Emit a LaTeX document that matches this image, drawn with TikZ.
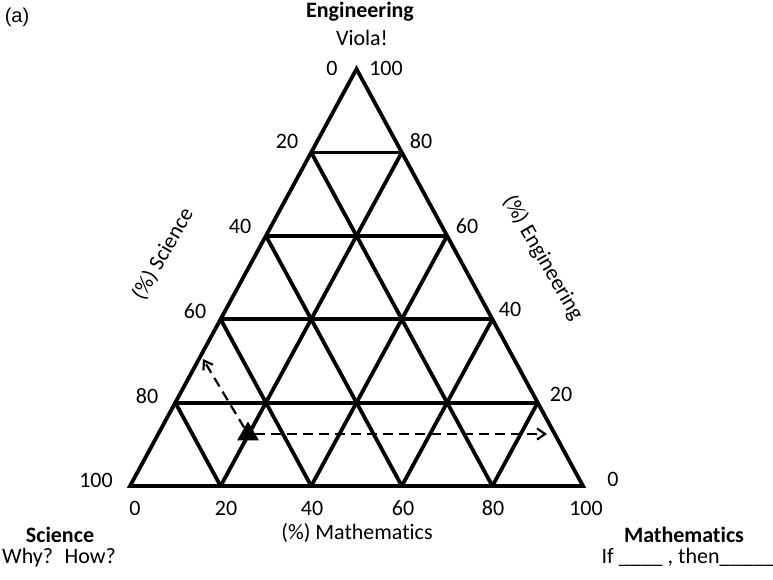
\documentclass[tikz,border=0pt]{standalone}
\usepackage{fontspec}
\setmainfont{Carlito}[Ligatures={NoCommon}]
\newfontfamily\panelfont{Liberation Sans}
\usetikzlibrary{arrows.meta}
\usetikzlibrary{calc, math}
\usetikzlibrary{shapes.geometric}

\tikzset{
  tern/.style={line width=3.8pt, line join=miter},
  lbl/.style={font=\fontsize{22}{26}\selectfont, inner sep=0pt},
  ttl/.style={font=\fontsize{22}{26}\selectfont\bfseries, inner sep=0pt, anchor=base},
  marker/.style={regular polygon, regular polygon sides=3, fill, minimum size=25pt, inner sep=0pt},
  path arrow/.style={line width=2.2pt, dash pattern=on 10pt off 6pt, -{Straight Barb[length=8pt,width=11pt]}},
}

\begin{document}
\begin{tikzpicture}[x=1pt,y=-1pt]
\tikzmath{
\xl=130;
\xr=583;
\yb=486;
\yt=69;
}
\useasboundingbox (0,0) rectangle (773,579);

\coordinate (sci) at (\xl,\yb);
\coordinate (math) at (\xr,\yb);
\coordinate (top) at ({(\xl+\xr)/2},\yt);
\foreach \k in {0,...,5}{
  \coordinate (l\k) at ($(sci)!\k/5!(top)$);
  \coordinate (r\k) at ($(math)!\k/5!(top)$);
  \coordinate (b\k) at ($(sci)!\k/5!(math)$);
}

\draw[tern] (sci) -- (math) -- (top) -- cycle;
\foreach \k in {1,...,4}{
  \pgfmathtruncatemacro\j{5-\k}
  \draw[tern] (l\k) -- (r\k);
  \draw[tern] (b\k) -- (l\k);
  \draw[tern] (b\k) -- (r\j);
}

\foreach \v/\x/\y in {0/332/68, 20/287/141, 40/240/226, 60/195/311, 80/147/396, 100/96/480}
  \node[lbl] (sl\v) at (\x,\y) {\v};
\foreach \v/\x/\y in {100/386/68, 80/421/141, 60/467/226, 40/510/309, 20/561/394, 0/613/479}
  \node[lbl] (el\v) at (\x,\y) {\v};
\foreach \v/\x in {0/135, 20/226, 40/312, 60/403, 80/493, 100/586}
  \node[lbl] (ml\v) at (\x,508) {\v};

\node[lbl] (maxis) at (357,533) {(\%) Mathematics};
\node[lbl, rotate=60] (saxis) at (163,254) {(\%) Science};
\node[lbl, rotate=-60] (eaxis) at (543,258) {(\%) Engineering};

\node[ttl] (eng) at (360,17) {Engineering};
\node[lbl, anchor=base] (engq) at (362,45) {Viola!};
\node[ttl] (scit) at (60,542) {Science};
\node[lbl, anchor=base] (sciq) at (59,563) {Why?~ How?};
\node[ttl] (matht) at (684,542) {Mathematics};
\node[lbl, anchor=base] (mathq) at (688,563) {If \_\_\_\_ , then\_\_\_\_\_};

\node[font=\panelfont\fontsize{20}{24}\selectfont, inner sep=0pt] (panel) at (17,17) {(a)};

\node[marker] (pt) at (248,434) {};
\coordinate (engtip) at (547,434);
\coordinate (scitip) at (203,359);
\draw[path arrow] (pt) -- (engtip);
\draw[path arrow] (pt) -- (scitip);
\end{tikzpicture}
\end{document}
